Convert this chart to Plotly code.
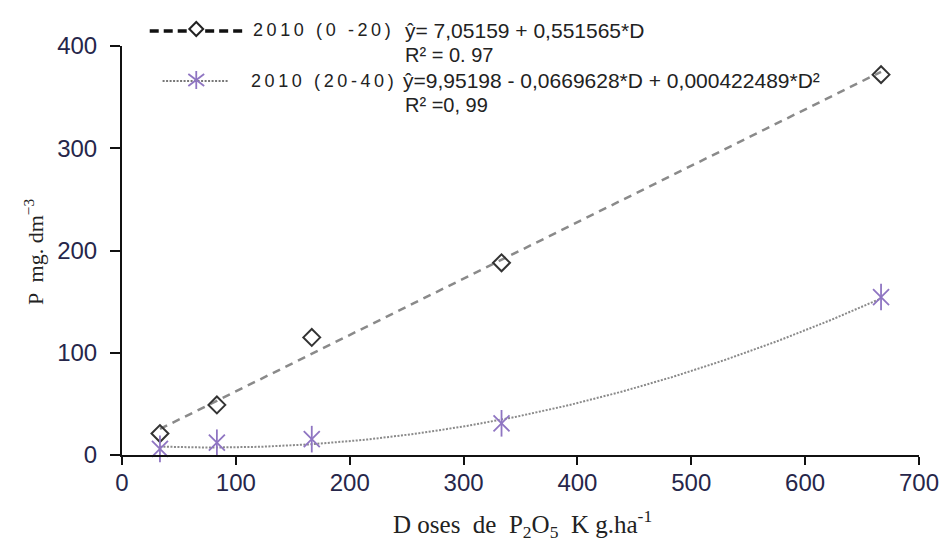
import plotly.graph_objects as go
import numpy as np

# ---- data ----
doses = [33.33, 83.33, 166.67, 333.33, 666.67]
p_0_20 = [21, 49, 115, 188, 372]
p_20_40 = [6, 12, 15.5, 31, 154.5]

# regression coefficients printed on the chart
lin_coef = [7.05159, 0.551565]
quad_coef = [9.95198, -0.0669628, 0.000422489]

x_ticks = [0, 100, 200, 300, 400, 500, 600, 700]
y_ticks = [0, 100, 200, 300, 400]

# ---- layout geometry (pixels) ----
W, H = 951, 544
L, R, T, B = 122, 951 - 927, 46, 544 - 455
PW, PH = W - L - R, H - T - B

def px(x):
    return (x - L) / PW

def py(y):
    return (H - B - y) / PH

D = np.linspace(doses[0], doses[-1], 200)
fit_lin = lin_coef[0] + lin_coef[1] * D
fit_quad = quad_coef[0] + quad_coef[1] * D + quad_coef[2] * D ** 2

fig = go.Figure()
fig.add_trace(go.Scatter(x=D, y=fit_lin, mode="lines",
                         line=dict(color="#8a8a8a", width=2.5, dash="8px,6px"),
                         showlegend=False, hoverinfo="skip"))
fig.add_trace(go.Scatter(x=D, y=fit_quad, mode="lines",
                         line=dict(color="#8a8a8a", width=2, dash="2px,1.5px"),
                         showlegend=False, hoverinfo="skip"))
fig.add_trace(go.Scatter(x=doses, y=p_0_20, mode="markers",
                         marker=dict(symbol="diamond-open", size=13, color="#333333",
                                     line=dict(width=2, color="#333333")),
                         showlegend=False, cliponaxis=False))
fig.add_trace(go.Scatter(x=doses, y=p_20_40, mode="markers",
                         marker=dict(symbol="x-thin-open", size=16, color="#8f75c2",
                                     line=dict(width=1.8, color="#8f75c2")),
                         showlegend=False, cliponaxis=False))
fig.add_trace(go.Scatter(x=doses, y=p_20_40, mode="markers",
                         marker=dict(symbol="line-ns-open", size=19, color="#8f75c2",
                                     line=dict(width=1.8, color="#8f75c2")),
                         showlegend=False, cliponaxis=False))

shapes = []
# legend sample 1: black dashed line with diamond
shapes.append(dict(type="line", xref="paper", yref="paper", x0=px(150), x1=px(189),
                   y0=py(31), y1=py(31), line=dict(color="#111111", width=3.5, dash="9px,5px")))
shapes.append(dict(type="line", xref="paper", yref="paper", x0=px(206), x1=px(247),
                   y0=py(31), y1=py(31), line=dict(color="#111111", width=3.5, dash="9px,5px")))
cx, cy, r = 197, 29, 7
shapes.append(dict(type="path", xref="paper", yref="paper",
                   path=f"M {px(cx-r)},{py(cy)} L {px(cx)},{py(cy-r)} L {px(cx+r)},{py(cy)} L {px(cx)},{py(cy+r)} Z",
                   line=dict(color="#222222", width=2)))
# legend sample 2: dotted line with asterisk
shapes.append(dict(type="line", xref="paper", yref="paper", x0=px(163), x1=px(229),
                   y0=py(81), y1=py(81), line=dict(color="#777777", width=2, dash="2px,1.5px")))
cx, cy = 197, 80
shapes.append(dict(type="line", xref="paper", yref="paper", x0=px(cx), x1=px(cx),
                   y0=py(cy-9), y1=py(cy+9), line=dict(color="#8f75c2", width=1.8)))
shapes.append(dict(type="line", xref="paper", yref="paper", x0=px(cx-8), x1=px(cx+8),
                   y0=py(cy-6), y1=py(cy+6), line=dict(color="#8f75c2", width=1.8)))
shapes.append(dict(type="line", xref="paper", yref="paper", x0=px(cx-8), x1=px(cx+8),
                   y0=py(cy+6), y1=py(cy-6), line=dict(color="#8f75c2", width=1.8)))

txt = "#222222"
ts = "\u2009"
annotations = [
    dict(x=px(252), y=py(30), text=ts.join("2010 (0 -20)"), font=dict(size=18, color=txt)),
    dict(x=px(406), y=py(30), text="ŷ= 7,05159 + 0,551565*D", font=dict(size=21, color=txt)),
    dict(x=px(406), y=py(55), text="R² = 0. 97", font=dict(size=20, color=txt)),
    dict(x=px(250), y=py(81), text=ts.join("2010 (20-40)"), font=dict(size=18, color=txt)),
    dict(x=px(404), y=py(80), text="ŷ=9,95198 - 0,0669628*D + 0,000422489*D²", font=dict(size=21, color=txt)),
    dict(x=px(406), y=py(105), text="R² =0, 99", font=dict(size=20, color=txt)),
]
for a in annotations:
    a.update(xref="paper", yref="paper", xanchor="left", yanchor="middle", showarrow=False,
             font=dict(family="Liberation Sans, Arial", **a["font"]))

annotations.append(dict(
    xref="paper", yref="paper", x=px(527), y=py(524), xanchor="center", yanchor="middle",
    showarrow=False,
    text="D oses  de  P<sub>2</sub>O<sub>5</sub>  K g.ha<sup>-1</sup>",
    font=dict(family="Liberation Serif, Times New Roman", size=25, color="#222222")))
annotations.append(dict(
    xref="paper", yref="paper", x=px(33), y=py(252), xanchor="center", yanchor="middle",
    showarrow=False, textangle=-90,
    text="P  mg. dm<sup>−3</sup>",
    font=dict(family="Liberation Serif, Times New Roman", size=22, color="#222222")))

axis_font = dict(family="Liberation Sans, Arial", size=24, color="#26264a")
fig.update_layout(
    width=W, height=H,
    margin=dict(l=L, r=R, t=T, b=B),
    paper_bgcolor="white", plot_bgcolor="white",
    shapes=shapes, annotations=annotations,
    xaxis=dict(range=[0, 700], tickvals=x_ticks, ticks="outside", ticklen=8, tickwidth=2,
               tickcolor="#111111", showline=True, linecolor="#111111", linewidth=2,
               showgrid=False, zeroline=False, tickfont=axis_font, ticklabelstandoff=-3),
    yaxis=dict(range=[0, 400], tickvals=y_ticks, ticks="outside", ticklen=10, tickwidth=2,
               tickcolor="#111111", showline=True, linecolor="#111111", linewidth=2,
               showgrid=False, zeroline=False, tickfont=axis_font, ticklabelstandoff=8),
)

fig.write_html("out.html")
